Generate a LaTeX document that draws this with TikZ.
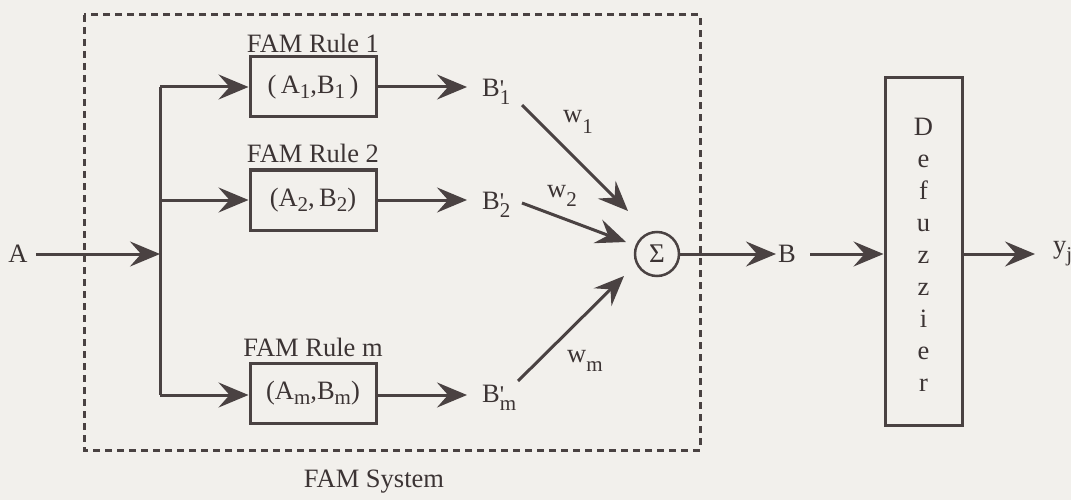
\documentclass[tikz,border=0pt]{standalone}
\usepackage{fontspec}
\setmainfont{Liberation Serif}
\usetikzlibrary{arrows.meta}
\definecolor{ink}{HTML}{4A4242}
\definecolor{txt}{HTML}{3C3434}
\definecolor{paper}{HTML}{F2F0EC}
\newcommand\lsb[2][5pt]{\raisebox{-#1}{\fontsize{21}{21}\selectfont #2}}
\newcommand\Bpr[1]{B\rlap{\raisebox{0.02em}{\fontsize{24}{24}\selectfont\textquotesingle}}\lsb[8pt]{#1}}
\tikzset{
  lbl/.style={text=txt, font=\fontsize{26.5}{30}\selectfont, inner sep=2pt},
  rulebox/.style={draw=ink, line width=3pt, minimum width=126, minimum height=60, text=txt, font=\fontsize{26.5}{30}\selectfont},
  arr/.style={draw=ink, line width=3pt, -{Stealth[length=30pt,width=25pt,inset=11pt]}},
  plain/.style={draw=ink, line width=3pt},
}
\begin{document}
\begin{tikzpicture}[x=1pt,y=-1pt]
\useasboundingbox (0,0) rectangle (1071,500);
\fill[paper] (0,0) rectangle (1071,500);
% dashed system frame
\draw[ink, line width=3pt, dash pattern=on 7pt off 5pt] (84,15) rectangle (700,450);
\node[lbl] (sys) at (374,482) {FAM System};
% input
\node[lbl] (A) at (18,254) {A};
\coordinate (brA) at (160,254);
\coordinate (br1) at (160,87);
\coordinate (br2) at (160,200);
\coordinate (brm) at (160,395);
\draw[plain] (br1) -- (brm);
\draw[arr] (A.east) ++(6,0) -- (brA);
% rule boxes
\node[rulebox] (r1) at (313,87) {(\,A\lsb{1},B\lsb{1}\,)};
\node[rulebox] (r2) at (313,200) {(A\lsb{2},\,B\lsb{2})};
\node[rulebox] (rm) at (313,393) {(A\lsb{m},B\lsb{m})};
\node[lbl] (l1) at (313,43) {FAM Rule 1};
\node[lbl] (l2) at (313,153) {FAM Rule 2};
\node[lbl] (lm) at (313,347) {FAM Rule m};
\draw[arr] (br1) -- (br1 -| r1.west);
\draw[arr] (br2) -- (br2 -| r2.west);
\draw[arr] (brm) -- (brm -| rm.west);
% B' outputs
\node[lbl, anchor=west] (b1) at (480,92) {\Bpr{1}};
\node[lbl, anchor=west] (b2) at (480,205) {\Bpr{2}};
\node[lbl, anchor=west] (bm) at (480,398) {\Bpr{m}};
\draw[arr] (r1.east |- br1) -- ([xshift=-13pt]br1 -| b1.west);
\draw[arr] (r2.east |- br2) -- ([xshift=-13pt]br2 -| b2.west);
\draw[arr] (rm.east |- brm) -- ([xshift=-13pt]brm -| bm.west);
% summation
\node[draw=ink, line width=2.5pt, circle, minimum size=44pt, inner sep=0pt, text=txt, font=\fontsize{27}{27}\selectfont] (sig) at (657,254) {Σ};
\coordinate (w1s) at (522,105); \coordinate (w1e) at (628,211);
\coordinate (w2s) at (522,203); \coordinate (w2e) at (626,242);
\coordinate (wms) at (518,381); \coordinate (wme) at (624,276);
\draw[arr] (w1s) -- (w1e);
\draw[arr] (w2s) -- (w2e);
\draw[arr] (wms) -- (wme);
\node[lbl, anchor=base west] (w1) at (561,123) {w\lsb[11pt]{1}};
\node[lbl, anchor=base west] (w2) at (545,197) {w\lsb[9pt]{2}};
\node[lbl, anchor=base west] (wm) at (565,362) {w\lsb[9pt]{m}};
% B and defuzzier
\node[lbl] (B) at (787,254) {B};
\draw[arr] (sig.east) -- (sig.east -| B.west);
\node[draw=ink, line width=3pt, minimum width=77, minimum height=347, inner sep=0pt] (dz) at (923.5,251.5) {};
\node[text=txt, font=\fontsize{26.5}{32}\selectfont, align=center, inner sep=0pt] (dzt) at (923.5,255) {D\\e\\f\\u\\z\\z\\i\\e\\r};
\draw[arr] ([xshift=12pt]B.east |- sig.east) -- (sig.east -| dz.west);
\node[lbl, anchor=base west] (y) at (1051,253) {y\lsb[8pt]{j}};
\draw[arr] (dz.east |- sig.east) -- ([xshift=-16pt]sig.east -| y.west);
\end{tikzpicture}
\end{document}
